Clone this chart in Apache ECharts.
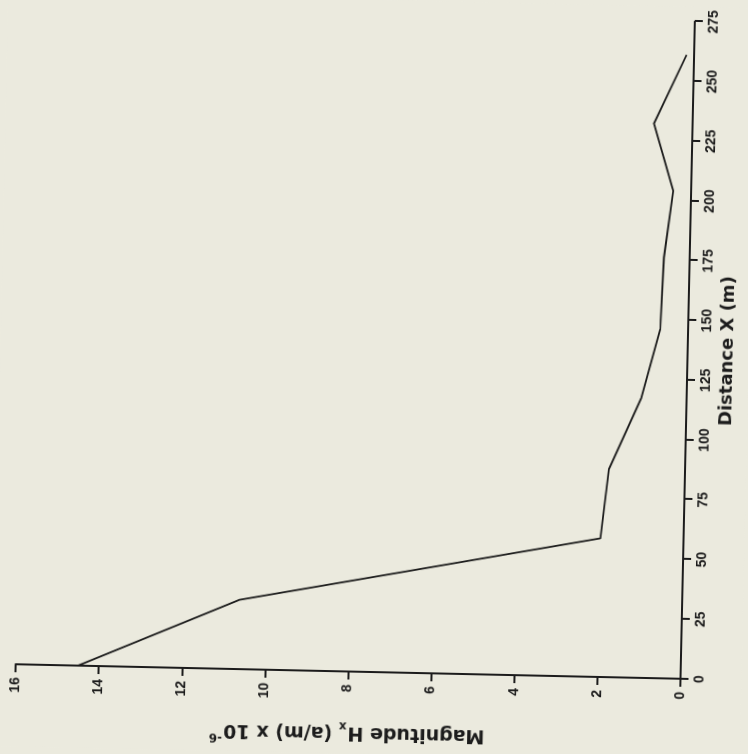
<!DOCTYPE html>
<html>
<head>
<meta charset="utf-8">
<script src="https://cdn.jsdelivr.net/npm/echarts@6/dist/echarts.min.js"></script>
<style>
  html, body { margin: 0; padding: 0; width: 748px; height: 754px; overflow: hidden; background: #ebeade; }
  #chart { position: absolute; left: -3px; top: 3px; width: 754px; height: 748px;
           transform-origin: 50% 50%; transform: rotate(-88.75deg); }
</style>
</head>
<body>
<div id="chart"></div>
<script>
// Distance along profile (m) and field magnitude Hx (A/m x 10^-6)
const distance  = [0, 29, 58, 87, 117, 146, 176, 204, 232, 261];
const magnitude = [14.5, 10.65, 2.0, 1.83, 1.09, 0.67, 0.62, 0.43, 0.93, 0.18];
const distanceRange  = [0, 275, 25];
const magnitudeRange = [0, 16, 2];

const ink = '#1c1c1c';
const tickFont = { color: ink, fontSize: 14, fontWeight: 'bold', fontFamily: 'Liberation Sans' };
const nameFont = 'DejaVu Sans';

const chart = echarts.init(document.getElementById('chart'), null, { renderer: 'canvas' });
chart.setOption({
  backgroundColor: '#ebeade',
  animation: false,
  grid: { left: 74, right: 14, top: 22, bottom: 61, containLabel: false },
  xAxis: {
    type: 'value',
    min: distanceRange[0], max: distanceRange[1], interval: distanceRange[2],
    name: 'Distance X (m)',
    nameLocation: 'middle',
    nameGap: 31,
    nameTextStyle: { color: ink, fontSize: 18, fontWeight: 'bold', fontFamily: nameFont },
    axisLine: { show: true, onZero: false, lineStyle: { color: ink, width: 2 } },
    axisTick: { show: true, inside: false, length: 8, lineStyle: { color: ink, width: 2 } },
    axisLabel: Object.assign({ margin: 12, showMinLabel: true, showMaxLabel: true }, tickFont),
    splitLine: { show: false }
  },
  yAxis: {
    type: 'value',
    min: magnitudeRange[0], max: magnitudeRange[1], interval: magnitudeRange[2],
    name: '{a|Magnitude H}{sub|x}{a| (a/m) x 10}{sup|-6}',
    nameLocation: 'middle',
    nameGap: 48,
    nameRotate: 90,
    nameTextStyle: {
      color: ink, fontSize: 19, fontWeight: 'bold', fontFamily: nameFont,
      rich: {
        a:   { color: ink, fontSize: 19, fontWeight: 'bold', fontFamily: nameFont, lineHeight: 26 },
        sub: { color: ink, fontSize: 12, fontWeight: 'bold', fontFamily: nameFont, verticalAlign: 'bottom', lineHeight: 26, padding: [8, 0, 0, 1] },
        sup: { color: ink, fontSize: 12, fontWeight: 'bold', fontFamily: nameFont, verticalAlign: 'top', lineHeight: 26, padding: [0, 0, 8, 1] }
      }
    },
    axisLine: { show: true, onZero: false, lineStyle: { color: ink, width: 2 } },
    axisTick: { show: true, inside: false, length: 8, lineStyle: { color: ink, width: 2 } },
    axisLabel: Object.assign({ margin: 13, showMinLabel: true, showMaxLabel: true }, tickFont),
    splitLine: { show: false }
  },
  series: [{
    type: 'line',
    data: distance.map((d, i) => [d, magnitude[i]]),
    symbol: 'none',
    lineStyle: { color: ink, width: 1.8 },
    silent: true
  }]
});
</script>
</body>
</html>
